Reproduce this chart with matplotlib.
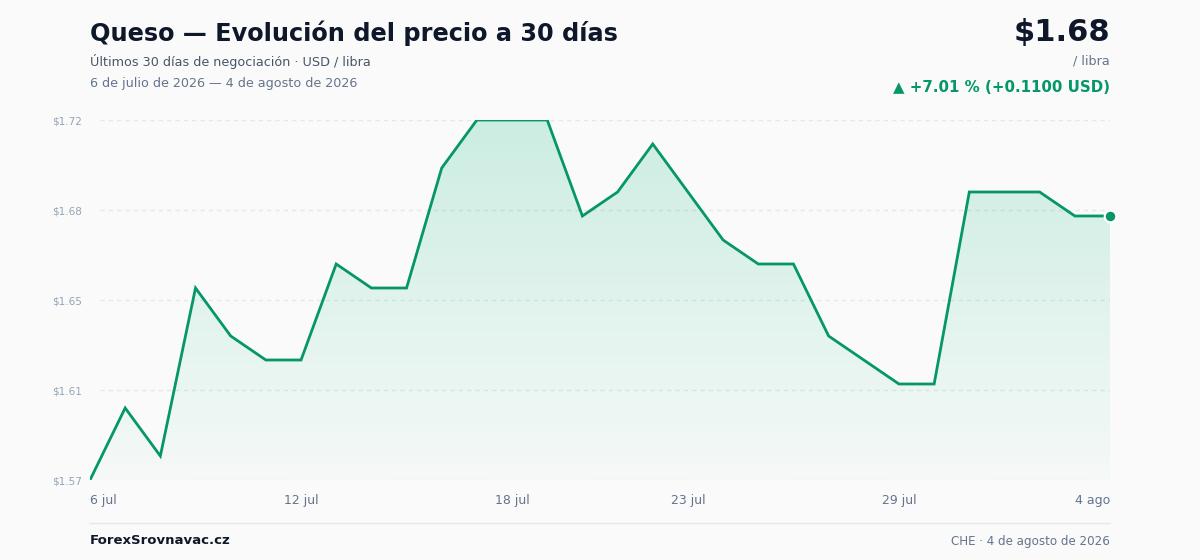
import numpy as np
import matplotlib.pyplot as plt
from matplotlib.patches import Polygon

# precio diario del queso (USD / libra), 6 jul - 4 ago 2026
dias = list(range(30))
precios = [1.57, 1.60, 1.58, 1.65, 1.63, 1.62, 1.62, 1.66, 1.65, 1.65,
           1.70, 1.72, 1.72, 1.72, 1.68, 1.69, 1.71, 1.69, 1.67, 1.66,
           1.66, 1.63, 1.62, 1.61, 1.61, 1.69, 1.69, 1.69, 1.68, 1.68]
tick_pos = [0, 6, 12, 17, 23, 29]
tick_labels = ['6 jul', '12 jul', '18 jul', '23 jul', '29 jul', '4 ago']

verde = '#059669'
bg = '#fafafa'

fig = plt.figure(figsize=(12, 5.6), dpi=100, facecolor=bg)
ax = fig.add_axes([0.075, 0.142857, 0.85, 0.642857])
ax.set_facecolor(bg)

ymin, ymax = min(precios), max(precios)
ax.set_xlim(0, len(dias) - 1)
ax.set_ylim(ymin, ymax)

# relleno con degradado
grad = np.linspace(0, 1, 256).reshape(-1, 1)
cmap = plt.matplotlib.colors.LinearSegmentedColormap.from_list(
    'g', [(0.063, 0.725, 0.506, 0.02), (0.063, 0.725, 0.506, 0.2)])
im = ax.imshow(grad, extent=[0, len(dias) - 1, ymin, ymax], origin='lower',
               aspect='auto', cmap=cmap, zorder=1)
verts = [(dias[0], ymin)] + list(zip(dias, precios)) + [(dias[-1], ymin)]
poly = Polygon(verts, closed=True, facecolor='none', edgecolor='none')
ax.add_patch(poly)
im.set_clip_path(poly)

ax.plot(dias, precios, color=verde, lw=2, zorder=3, solid_joinstyle='miter')
ax.scatter([dias[-1]], [precios[-1]], s=70, color=verde, edgecolor='white',
           linewidth=1.5, zorder=4, clip_on=False)

yt = np.linspace(ymin, ymax, 5)
for y in yt:
    ax.axhline(y, xmin=0.01, color='#e5e7eb', lw=1, ls=(0, (3, 3)), zorder=0)
ax.set_yticks(yt)
ax.set_yticklabels(['$%.2f' % (y + 1e-9) for y in yt])
ax.set_xticks(tick_pos)
ax.set_xticklabels(tick_labels)
ax.tick_params(axis='y', length=0, pad=6, labelsize=7.5, labelcolor='#94a3b8')
ax.tick_params(axis='x', length=0, pad=10, labelsize=9, labelcolor='#64748b')
xl = ax.get_xticklabels()
xl[0].set_ha('left')
xl[-1].set_ha('right')
for s in ax.spines.values():
    s.set_visible(False)

# textos
fig.text(0.075, 1 - 33 / 560, 'Queso — Evolución del precio a 30 días', fontsize=17.3,
         fontweight='bold', color='#0f172a', va='center', ha='left')
fig.text(0.075, 1 - 61 / 560, 'Últimos 30 días de negociación · USD / libra', fontsize=9.2,
         color='#475569', va='center', ha='left')
fig.text(0.075, 1 - 83 / 560, '6 de julio de 2026 — 4 de agosto de 2026', fontsize=9.2,
         color='#64748b', va='center', ha='left')
fig.text(0.925, 1 - 33 / 560, '$%.2f' % precios[-1], fontsize=22, fontweight='bold',
         color='#0f172a', va='center', ha='right')
fig.text(0.925, 1 - 61 / 560, '/ libra', fontsize=9.2, color='#64748b', va='center', ha='right')
cambio = precios[-1] - precios[0]
pct = cambio / precios[0] * 100
fig.text(0.925, 1 - 87 / 560, '▲ +%.2f %% (+%.4f USD)' % (pct, cambio), fontsize=10.8,
         fontweight='bold', color=verde, va='center', ha='right')

fig.add_artist(plt.Line2D([0.075, 0.925], [1 - 523 / 560] * 2, color='#e5e7eb', lw=1))
fig.text(0.075, 1 - 541 / 560, 'ForexSrovnavac.cz', fontsize=9.5, fontweight='bold',
         color='#0f172a', va='center', ha='left')
fig.text(0.925, 1 - 541 / 560, 'CHE · 4 de agosto de 2026', fontsize=8.6, color='#64748b',
         va='center', ha='right')

fig.savefig('out.png', dpi=100, facecolor=bg)
